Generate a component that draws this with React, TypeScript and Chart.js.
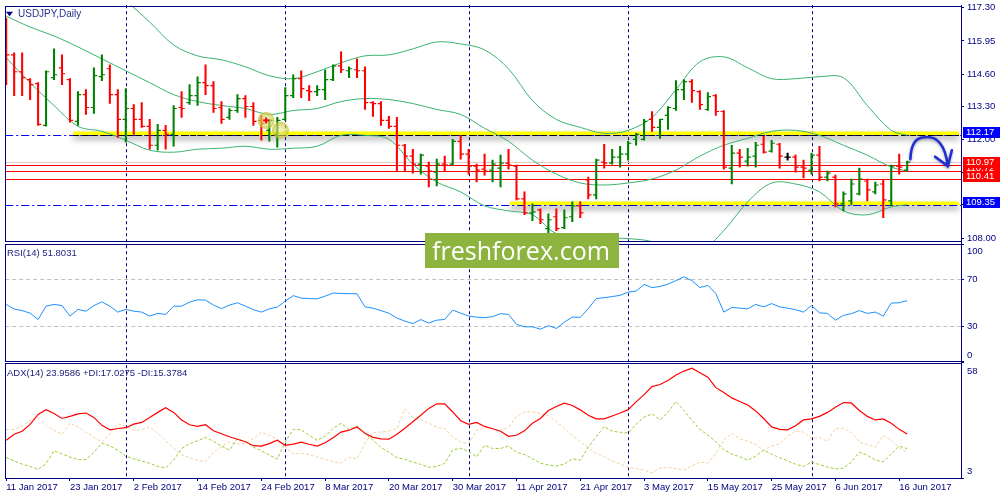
import { useEffect, useRef } from "react";
import { Chart, registerables } from "chart.js";

Chart.register(...registerables);

// ---------- data (daily USDJPY, bar index 0 = 11 Jan 2017) ----------
const dateLabels = [
  "11 Jan 2017", "23 Jan 2017", "2 Feb 2017", "14 Feb 2017", "24 Feb 2017",
  "8 Mar 2017", "20 Mar 2017", "30 Mar 2017", "11 Apr 2017", "21 Apr 2017",
  "3 May 2017", "15 May 2017", "25 May 2017", "6 Jun 2017", "16 Jun 2017",
];
const dateBars = [0, 8, 16, 24, 32, 40, 48, 56, 64, 72, 80, 88, 96, 104, 112];
const monthStartBars = [15, 35, 58, 78, 101];

const open = [
  116.27, 115.39, 114.71, 114.39, 114.23, 112.55, 114.47, 114.87, 114.39, 112.71,
  113.79, 113.27, 114.51, 114.83, 113.79, 112.79, 113.23, 112.79, 112.51, 111.75,
  112.35, 112.19, 113.27, 113.47, 113.75, 114.27, 114.15, 113.27, 112.87, 113.15,
  113.63, 113.31, 112.75, 112.35, 112.19, 112.79, 113.75, 114.43, 113.95, 113.91,
  113.99, 114.39, 114.95, 114.75, 114.79, 114.75, 113.47, 113.43, 112.75, 112.51,
  111.75, 111.31, 110.99, 110.91, 110.67, 110.99, 110.99, 111.91, 111.39, 110.91,
  110.79, 110.75, 110.83, 111.03, 110.91, 109.59, 109.03, 109.15, 108.39, 108.87,
  108.43, 108.87, 109.31, 110.35, 109.75, 111.07, 111.03, 111.27, 111.39, 111.99,
  111.99, 112.79, 112.47, 112.95, 113.23, 113.99, 114.31, 113.91, 113.19, 113.75,
  113.11, 110.83, 111.43, 111.11, 111.31, 111.79, 111.51, 111.79, 111.27, 111.27,
  110.87, 110.75, 111.35, 110.47, 110.47, 109.39, 109.51, 109.79, 110.31, 109.87,
  110.19, 109.51, 110.91, 110.75,
];
const high = [
  116.87, 115.47, 115.47, 114.43, 114.27, 114.75, 115.63, 115.39, 114.43, 113.91,
  113.99, 114.87, 115.39, 114.99, 113.99, 114.03, 113.39, 113.47, 112.79, 112.59,
  112.55, 113.35, 113.91, 114.19, 114.51, 114.99, 114.31, 113.51, 113.23, 113.79,
  113.75, 113.47, 112.95, 112.79, 112.87, 114.07, 114.59, 114.75, 114.15, 114.15,
  114.79, 114.99, 115.51, 114.91, 115.23, 114.91, 113.51, 113.51, 112.91, 112.87,
  111.79, 111.59, 111.39, 111.07, 111.19, 111.31, 111.99, 112.15, 111.59, 110.99,
  111.39, 111.15, 111.35, 111.59, 110.95, 109.87, 109.39, 109.19, 108.99, 109.19,
  109.15, 109.47, 109.47, 110.47, 111.19, 111.79, 111.59, 111.71, 111.91, 112.23,
  112.79, 113.11, 112.79, 113.31, 114.35, 114.39, 114.39, 113.95, 113.87, 113.79,
  113.15, 111.75, 111.59, 111.63, 111.87, 112.11, 111.95, 111.83, 111.43, 111.35,
  111.15, 111.43, 111.71, 110.71, 110.55, 109.87, 110.39, 110.83, 110.39, 110.27,
  110.35, 110.95, 111.39, 111.11,
];
const low = [
  114.19, 113.75, 113.75, 113.59, 112.55, 112.52, 114.39, 114.19, 112.68, 112.55,
  112.99, 113.03, 114.35, 113.43, 112.07, 111.87, 112.19, 112.47, 111.59, 111.55,
  111.59, 111.71, 112.87, 113.39, 113.35, 113.79, 113.07, 112.63, 112.79, 113.07,
  112.87, 112.55, 111.95, 111.91, 111.67, 112.75, 113.67, 113.67, 113.55, 113.75,
  113.59, 114.35, 114.67, 114.47, 114.47, 113.19, 112.91, 112.55, 112.43, 110.71,
  110.71, 110.63, 110.59, 110.07, 110.11, 110.71, 110.95, 111.19, 110.59, 110.27,
  110.55, 110.27, 110.07, 110.79, 109.55, 108.95, 108.71, 108.59, 107.99, 108.31,
  108.39, 108.67, 108.83, 109.59, 109.59, 110.83, 110.99, 110.87, 111.15, 111.75,
  111.95, 112.31, 112.03, 112.39, 113.15, 113.59, 113.47, 113.19, 113.15, 112.95,
  110.79, 110.19, 110.87, 110.91, 110.87, 111.43, 111.47, 110.83, 111.15, 110.67,
  110.43, 110.59, 110.31, 110.31, 109.27, 109.11, 109.35, 109.75, 109.51, 109.79,
  108.83, 109.31, 110.59, 110.71,
];
const close = [
  115.39, 114.71, 114.47, 114.19, 112.59, 114.71, 114.59, 114.63, 112.75, 113.79,
  113.27, 114.55, 114.59, 113.79, 112.79, 113.23, 112.79, 112.51, 111.75, 112.35,
  112.19, 113.23, 113.23, 113.75, 114.27, 114.15, 113.23, 112.79, 113.15, 113.63,
  113.31, 112.71, 112.63, 112.75, 112.75, 113.75, 114.43, 114.03, 113.91, 113.99,
  114.39, 114.95, 114.79, 114.83, 114.75, 113.47, 113.43, 112.75, 112.51, 111.75,
  111.31, 110.99, 111.35, 110.71, 110.99, 110.95, 111.91, 111.39, 110.91, 110.75,
  110.71, 110.99, 111.03, 110.95, 109.59, 109.03, 109.07, 108.75, 108.75, 108.39,
  108.83, 109.31, 109.03, 109.75, 111.15, 111.03, 111.27, 111.39, 111.83, 112.19,
  112.71, 112.47, 112.79, 113.27, 113.99, 114.31, 113.95, 113.39, 113.71, 113.11,
  110.87, 111.43, 111.27, 111.27, 111.75, 111.47, 111.83, 111.31, 111.27, 110.87,
  110.83, 111.35, 110.47, 110.63, 109.39, 109.79, 110.19, 110.39, 109.95, 110.15,
  109.55, 110.91, 110.87, 111.07,
];

// Bollinger bands (20), read every third bar
const bbBars = [
  0, 3, 6, 9, 12, 15, 18, 21, 24, 27, 30, 33, 36, 39, 42, 45, 48, 51, 54, 57,
  60, 63, 66, 69, 72, 75, 78, 81, 84, 87, 90, 93, 96, 99, 102, 105, 108, 111, 113,
];
const bbUpper = [
  118.63, 118.75, 118.95, 118.91, 118.15, 117.55, 116.71, 115.79, 115.35, 115.19,
  114.91, 114.55, 114.43, 114.71, 115.07, 115.35, 115.39, 115.63, 115.91, 115.83,
  115.59, 114.83, 113.55, 112.79, 112.47, 112.23, 112.35, 112.87, 113.99, 115.11,
  115.31, 114.87, 114.43, 114.43, 114.51, 114.47, 113.35, 112.35, 112.15,
];
const bbMiddle = [
  116.95, 116.51, 116.15, 115.71, 115.23, 114.75, 114.27, 113.79, 113.51, 113.35,
  113.23, 112.99, 113.15, 113.23, 113.51, 113.63, 113.59, 113.43, 113.19, 112.99,
  112.43, 111.91, 111.15, 110.59, 110.23, 110.15, 110.23, 110.39, 110.75, 111.31,
  111.75, 112.03, 112.31, 112.35, 112.15, 111.75, 111.35, 110.87, 110.71,
];
const bbLower = [
  115.27, 114.27, 113.35, 112.51, 112.31, 111.95, 111.55, 111.47, 111.59, 111.63,
  111.71, 111.59, 111.63, 111.71, 112.15, 112.15, 111.99, 110.99, 110.27, 109.87,
  109.31, 109.11, 108.95, 108.19, 108.11, 108.03, 107.99, 107.87, 107.47, 107.47,
  108.31, 109.47, 110.23, 110.19, 109.87, 109.11, 108.95, 109.27, 109.35,
];

const rsi = [
  48.6, 44.6, 43.3, 41.1, 35.6, 47.1, 48.6, 47.6, 38.6, 44.3,
  42.8, 47.6, 50.8, 47.1, 42.0, 44.3, 42.8, 42.0, 38.6, 40.9,
  40.0, 47.1, 47.1, 50.6, 52.5, 52.3, 48.0, 45.0, 48.0, 50.0,
  47.1, 44.1, 42.0, 44.8, 46.3, 51.4, 56.1, 54.0, 53.6, 53.4,
  55.7, 58.3, 58.0, 57.8, 57.7, 46.5, 45.4, 43.3, 41.1, 36.9,
  34.3, 32.1, 35.6, 32.6, 35.1, 35.7, 43.7, 41.1, 38.6, 37.7,
  37.3, 38.1, 40.7, 40.0, 31.5, 29.4, 29.4, 27.4, 30.4, 28.0,
  33.4, 37.7, 37.5, 45.0, 53.6, 54.4, 55.3, 56.4, 59.1, 60.0,
  65.7, 63.0, 64.0, 66.0, 69.0, 72.2, 69.0, 63.0, 64.9, 58.0,
  42.0, 46.0, 45.4, 44.8, 48.6, 46.5, 49.3, 46.5, 45.4, 44.1,
  42.0, 47.6, 41.4, 40.9, 35.1, 39.2, 40.7, 43.3, 40.9, 42.0,
  38.6, 49.7, 50.0, 51.8,
];
const adx = [
  21.0, 23.9, 25.3, 28.6, 33.3, 35.6, 33.8, 31.4, 32.4, 33.6,
  34.0, 31.9, 28.1, 26.0, 26.6, 27.0, 28.7, 29.5, 31.9, 34.3,
  36.5, 34.3, 30.7, 28.4, 27.6, 28.4, 25.5, 24.1, 22.7, 21.5,
  20.3, 18.4, 18.2, 19.4, 21.0, 18.6, 19.2, 20.1, 19.1, 18.2,
  19.8, 22.2, 24.9, 25.8, 27.3, 24.3, 22.4, 21.7, 21.5, 23.9,
  26.7, 29.8, 32.9, 36.2, 38.4, 38.4, 34.5, 30.3, 28.6, 29.5,
  27.6, 26.5, 25.3, 22.9, 23.4, 25.5, 29.1, 31.4, 35.2, 37.1,
  38.7, 37.6, 35.5, 32.9, 31.2, 31.2, 32.6, 34.0, 35.6, 39.3,
  42.8, 46.6, 47.6, 49.5, 52.1, 54.0, 55.4, 53.2, 51.1, 46.1,
  43.8, 41.2, 39.5, 37.8, 35.0, 31.4, 27.4, 26.2, 26.0, 27.9,
  30.7, 31.2, 32.4, 34.3, 36.7, 39.0, 38.8, 35.2, 32.4, 30.7,
  31.2, 29.1, 26.2, 24.0,
];
const plusDi = [
  12.8, 11.1, 9.6, 8.5, 7.1, 9.9, 16.0, 14.5, 13.0, 11.8,
  11.8, 15.3, 19.6, 18.4, 16.3, 13.4, 12.1, 11.1, 10.0, 8.5,
  7.8, 11.5, 17.0, 19.4, 20.8, 22.4, 20.5, 18.2, 16.3, 21.7,
  20.3, 17.7, 16.0, 13.9, 12.0, 20.2, 26.2, 26.0, 23.4, 21.0,
  22.9, 26.7, 29.1, 26.2, 27.8, 24.3, 21.0, 17.6, 15.3, 12.7,
  11.9, 10.6, 9.5, 8.1, 8.5, 10.0, 16.4, 17.2, 15.7, 13.1,
  18.6, 17.1, 17.1, 18.2, 15.3, 14.2, 12.2, 10.1, 9.2, 8.7,
  9.6, 12.2, 11.5, 17.7, 22.7, 27.6, 25.3, 24.8, 24.5, 28.6,
  32.1, 33.5, 30.7, 34.3, 39.6, 35.2, 30.5, 26.2, 23.5, 20.3,
  16.6, 14.4, 13.1, 11.5, 13.4, 16.3, 14.4, 12.7, 11.2, 9.6,
  8.5, 10.6, 9.4, 8.2, 7.3, 7.7, 10.6, 15.3, 13.9, 11.5,
  10.7, 14.4, 18.2, 17.0,
];
const minusDi = [
  26.1, 26.1, 27.6, 30.5, 31.9, 28.1, 25.8, 23.9, 29.1, 27.4,
  24.8, 22.4, 20.1, 24.3, 28.9, 27.6, 25.8, 26.0, 27.4, 24.3,
  20.8, 17.2, 14.1, 12.7, 11.4, 10.7, 15.3, 17.9, 20.2, 19.1,
  19.6, 21.7, 24.8, 23.4, 21.5, 17.6, 14.6, 14.8, 14.1, 13.0,
  11.8, 10.8, 10.1, 12.8, 12.1, 19.6, 24.6, 25.0, 25.5, 26.5,
  36.0, 31.9, 30.7, 29.3, 27.2, 26.6, 22.4, 20.1, 19.4, 25.8,
  27.3, 26.6, 25.8, 27.2, 32.4, 34.5, 34.5, 33.8, 32.9, 29.8,
  26.7, 23.4, 20.3, 17.4, 14.8, 13.1, 11.1, 9.6, 8.1, 7.5,
  6.8, 5.4, 7.7, 8.1, 7.5, 6.8, 8.8, 10.6, 10.1, 14.6,
  21.0, 24.3, 21.7, 20.5, 18.9, 16.3, 18.2, 19.4, 22.9, 25.5,
  24.9, 21.8, 22.3, 20.5, 26.7, 26.7, 24.8, 20.1, 18.9, 17.7,
  23.4, 21.0, 17.5, 15.4,
];

const priceTicks = [108.0, 109.35, 110.65, 112.0, 113.3, 114.6, 115.95, 117.3];
const rsiTicks = [0, 30, 70, 100];
const rsiLevels = [30, 70];
const adxTicks = [3, 58];

// drawn objects
const keyLevels = [112.17, 109.35];
const keyLevelFromBar = [8.4, 63.2];
const redLevels = [110.97, 110.72, 110.41];
const markerPoints = [[32.6, 112.75], [34.4, 112.35]];
// curved arrow: start, ctrl, peak, ctrl, tip, wing, wing  (bar, price)
const arrowPoints = [
  [113.4, 111.19], [113.5, 112.05], [115.1, 112.07], [117.6, 112.19],
  [118.1, 110.91], [116.5, 111.29], [118.6, 111.55],
];

const titleMain = "USDJPY,Daily";
const titleRsi = "RSI(14) 51.8031";
const titleAdx = "ADX(14) 23.9586 +DI:17.0275 -DI:15.3784";
const watermark = "freshforex.com";

// ---------- styles ----------
const NAVY = "#000080";
const BULL = "#008000";
const BEAR = "#ff0000";
const DOJI = "#000000";
const BAND = "#3cb371";
const FONT = '"Liberation Sans", Arial, sans-serif';

const strokeLine = (ctx: CanvasRenderingContext2D, x1: number, y1: number, x2: number, y2: number) => {
  ctx.beginPath();
  ctx.moveTo(x1, y1);
  ctx.lineTo(x2, y2);
  ctx.stroke();
};
const crisp = (v: number) => Math.round(v) + 0.5;

const panelClip = {
  id: "panelClip",
  beforeDatasetDraw(chart: any, args: any) {
    const { ctx, chartArea } = chart;
    const ys = args.meta.yScale;
    ctx.save();
    ctx.beginPath();
    ctx.rect(chartArea.left, ys.top, chartArea.right - chartArea.left, ys.bottom - ys.top);
    ctx.clip();
  },
  afterDatasetDraw(chart: any) {
    chart.ctx.restore();
  },
};

const levelsPlugin = {
  id: "levels",
  beforeDatasetsDraw(chart: any) {
    const { ctx, chartArea: a, scales } = chart;
    const { x, y, yRsi } = scales;
    ctx.save();
    ctx.lineWidth = 1;

    // month separators
    ctx.strokeStyle = NAVY;
    ctx.setLineDash([3, 3]);
    monthStartBars.forEach((b) => {
      const px = crisp(x.getPixelForValue(b));
      strokeLine(ctx, px, a.top, px, a.bottom);
    });

    // RSI levels
    ctx.strokeStyle = "#c0c0c0";
    ctx.setLineDash([4, 3]);
    rsiLevels.forEach((v) => {
      const py = crisp(yRsi.getPixelForValue(v));
      strokeLine(ctx, a.left, py, a.right, py);
    });

    // bid line
    ctx.setLineDash([]);
    ctx.strokeStyle = "#dcc8c8";
    const bid = crisp(y.getPixelForValue(close[close.length - 1]));
    strokeLine(ctx, a.left, bid, a.right, bid);

    // red levels
    ctx.strokeStyle = "#ff0000";
    redLevels.forEach((v) => {
      const py = crisp(y.getPixelForValue(v));
      strokeLine(ctx, a.left, py, a.right, py);
    });

    // blue dash-dot levels
    ctx.strokeStyle = "#0000ff";
    ctx.setLineDash([8, 3, 2, 3]);
    keyLevels.forEach((v) => {
      const py = crisp(y.getPixelForValue(v));
      strokeLine(ctx, a.left, py, a.right, py);
    });

    // yellow highlights with shadow
    ctx.setLineDash([]);
    ctx.save();
    ctx.shadowColor = "rgba(0,0,0,0.45)";
    ctx.shadowBlur = 6;
    ctx.shadowOffsetY = 4;
    ctx.strokeStyle = "#ffff00";
    ctx.lineWidth = 3.5;
    keyLevels.forEach((v, k) => {
      const py = y.getPixelForValue(v) - 1.5;
      strokeLine(ctx, x.getPixelForValue(keyLevelFromBar[k]), py, a.right - 2, py);
    });
    ctx.restore();

    // black dashed on the upper level
    ctx.strokeStyle = "#000000";
    ctx.lineWidth = 1;
    ctx.setLineDash([6, 3]);
    const py0 = crisp(y.getPixelForValue(keyLevels[0]));
    strokeLine(ctx, x.getPixelForValue(keyLevelFromBar[0]), py0, a.right - 2, py0);
    ctx.restore();
  },
};

const overlayPlugin = {
  id: "overlay",
  afterDraw(chart: any) {
    const { ctx, chartArea: a, scales } = chart;
    const { x, y, yRsi, yAdx } = scales;
    ctx.save();

    // panel frames
    ctx.strokeStyle = NAVY;
    ctx.lineWidth = 1;
    const frames = [
      [y.top + 0.5, y.bottom - 1],
      [yRsi.top + 2, yRsi.bottom - 1],
      [yAdx.top + 1, yAdx.bottom],
    ];
    frames.forEach(([t, b]) => {
      ctx.strokeRect(crisp(a.left), crisp(t), Math.round(a.right - a.left), Math.round(b - t));
    });

    // RSI / ADX axis labels, clamped inside their panel
    ctx.font = `9.5px ${FONT}`;
    ctx.fillStyle = NAVY;
    ctx.textBaseline = "middle";
    ctx.textAlign = "left";
    const sub: [any, number[]][] = [[yRsi, rsiTicks], [yAdx, adxTicks]];
    sub.forEach(([sc, ticks]) => {
      ticks.forEach((v) => {
        const py = Math.min(Math.max(sc.getPixelForValue(v), sc.top + 9), sc.bottom - 7);
        ctx.fillText(String(v), a.right + 6, py);
      });
    });

    // price tags on the right axis
    const tag = (v: number, bg: string) => {
      const py = y.getPixelForValue(v) - 2;
      ctx.fillStyle = bg;
      ctx.fillRect(a.right + 2, Math.round(py - 5.5), 37, 11);
      ctx.fillStyle = "#ffffff";
      ctx.fillText(v.toFixed(2), a.right + 5, py);
    };
    [1, 2, 0].forEach((k) => tag(redLevels[k], "#ff0000"));
    keyLevels.forEach((v) => tag(v, "#0000ff"));

    // panel titles
    ctx.font = `10px ${FONT}`;
    ctx.fillStyle = "#23308c";
    ctx.fillText(titleMain, 18, y.top + 9.5);
    ctx.font = `9.5px ${FONT}`;
    ctx.fillStyle = "#1b1b7a";
    ctx.fillText(titleRsi, 7, yRsi.top + 11);
    ctx.fillText(titleAdx, 7, yAdx.top + 11);
    ctx.fillStyle = NAVY;
    ctx.beginPath();
    ctx.moveTo(6, y.top + 6.5);
    ctx.lineTo(13, y.top + 6.5);
    ctx.lineTo(9.5, y.top + 11);
    ctx.closePath();
    ctx.fill();

    // highlighted marker
    markerPoints.forEach(([b, p]) => {
      const cx = x.getPixelForValue(b);
      const cy = y.getPixelForValue(p);
      const g = ctx.createRadialGradient(cx, cy, 1, cx, cy, 9);
      g.addColorStop(0, "rgba(235,235,150,0.55)");
      g.addColorStop(1, "rgba(190,190,40,0.75)");
      ctx.fillStyle = g;
      ctx.beginPath();
      ctx.arc(cx, cy, 8.5, 0, Math.PI * 2);
      ctx.fill();
    });
    {
      const cx = x.getPixelForValue(markerPoints[0][0]);
      const cy = y.getPixelForValue(markerPoints[0][1]);
      ctx.strokeStyle = "#ff0000";
      ctx.lineWidth = 2;
      strokeLine(ctx, cx - 3, cy, cx + 3, cy);
      strokeLine(ctx, cx, cy - 3, cx, cy + 3);
    }

    // curved forecast arrow
    const P = arrowPoints.map(([b, p]) => [x.getPixelForValue(b), y.getPixelForValue(p)]);
    ctx.save();
    ctx.shadowColor = "rgba(0,0,60,0.35)";
    ctx.shadowBlur = 3;
    ctx.shadowOffsetY = 1;
    ctx.strokeStyle = "#1f2fd0";
    ctx.lineWidth = 2.6;
    ctx.lineCap = "round";
    ctx.lineJoin = "round";
    ctx.beginPath();
    ctx.moveTo(P[0][0], P[0][1]);
    ctx.quadraticCurveTo(P[1][0], P[1][1], P[2][0], P[2][1]);
    ctx.quadraticCurveTo(P[3][0], P[3][1], P[4][0], P[4][1]);
    ctx.stroke();
    ctx.beginPath();
    ctx.moveTo(P[5][0], P[5][1]);
    ctx.lineTo(P[4][0], P[4][1]);
    ctx.lineTo(P[6][0], P[6][1]);
    ctx.stroke();
    ctx.restore();

    // watermark
    ctx.fillStyle = "#8db43e";
    ctx.fillRect(425, 233, 194, 35);
    ctx.fillStyle = "#ffffff";
    ctx.textBaseline = "alphabetic";
    ctx.font = `30px "Open Sans", ${FONT}`;
    const w = ctx.measureText(watermark).width;
    ctx.font = `${(30 * 178) / w}px "Open Sans", ${FONT}`;
    ctx.fillText(watermark, 432, 260);

    ctx.restore();
  },
};

export default function App() {
  const canvasRef = useRef<HTMLCanvasElement>(null);

  useEffect(() => {
    document.body.style.margin = "0";
    const canvas = canvasRef.current;
    if (!canvas) return;

    const idx = close.map((_, i) => i);
    const colors = idx.map((i) => (close[i] > open[i] ? BULL : close[i] < open[i] ? BEAR : DOJI));
    const band = (vals: number[]) => bbBars.map((b, k) => ({ x: b, y: vals[k] }));
    const series = (vals: number[]) => vals.map((v, i) => ({ x: i, y: v }));
    const tick = {
      type: "line" as const,
      showLine: false,
      pointStyle: "line" as const,
      pointRadius: 1.6,
      pointBorderWidth: 1.2,
      pointBorderColor: colors,
      pointBackgroundColor: colors,
      xAxisID: "x",
      yAxisID: "y",
    };
    const yAxis = (stackWeight: number, min: number, max: number, ticks: number[], showLabels: boolean) => ({
      type: "linear" as const,
      position: "right" as const,
      stack: "panes",
      stackWeight,
      min,
      max,
      beginAtZero: false,
      afterBuildTicks: (scale: any) => {
        scale.ticks = ticks.map((v) => ({ value: v }));
      },
      afterFit: (scale: any) => {
        scale.width = 39;
        scale.paddingTop = 0;
        scale.paddingBottom = 0;
      },
      grid: { drawOnChartArea: false, drawTicks: true, tickLength: 3, color: NAVY },
      border: { display: true, color: NAVY },
      ticks: {
        display: showLabels,
        padding: 3,
        color: NAVY,
        font: { family: FONT, size: 9.5 },
        callback: (v: any) => Number(v).toFixed(2),
      },
    });

    const chart = new Chart(canvas, {
      type: "line",
      data: {
        datasets: [
          {
            type: "bar",
            data: idx.map((i) => ({ x: i, y: [low[i], high[i]] })) as any,
            backgroundColor: colors,
            borderWidth: 0,
            barThickness: 1.4,
            grouped: false,
            xAxisID: "x",
            yAxisID: "y",
          },
          { ...tick, data: idx.map((i) => ({ x: i - 0.2, y: open[i] })) },
          { ...tick, data: idx.map((i) => ({ x: i + 0.2, y: close[i] })) },
          ...[bbUpper, bbMiddle, bbLower].map((vals) => ({
            type: "line" as const,
            data: band(vals),
            borderColor: BAND,
            borderWidth: 1,
            pointRadius: 0,
            tension: 0.35,
            xAxisID: "x",
            yAxisID: "y",
          })),
          {
            type: "line",
            data: series(rsi),
            borderColor: "#1e90ff",
            borderWidth: 1,
            pointRadius: 0,
            xAxisID: "x",
            yAxisID: "yRsi",
          },
          {
            type: "line",
            data: series(adx),
            borderColor: "#ff0000",
            borderWidth: 1.2,
            pointRadius: 0,
            xAxisID: "x",
            yAxisID: "yAdx",
          },
          {
            type: "line",
            data: series(plusDi),
            borderColor: "#9acd32",
            borderWidth: 1,
            borderDash: [3, 2],
            pointRadius: 0,
            xAxisID: "x",
            yAxisID: "yAdx",
          },
          {
            type: "line",
            data: series(minusDi),
            borderColor: "#f5d0a0",
            borderWidth: 1,
            borderDash: [3, 2],
            pointRadius: 0,
            xAxisID: "x",
            yAxisID: "yAdx",
          },
        ],
      },
      options: {
        responsive: false,
        animation: false,
        events: [],
        layout: { padding: { left: 2, top: 2, right: 0, bottom: 0 } },
        plugins: { legend: { display: false }, tooltip: { enabled: false } },
        scales: {
          x: {
            type: "linear",
            position: "bottom",
            min: -0.125,
            max: 119.75,
            offset: false,
            afterBuildTicks: (scale: any) => {
              scale.ticks = dateBars.map((v) => ({ value: v }));
            },
            afterFit: (scale: any) => {
              scale.height = 22;
              scale.paddingLeft = 0;
              scale.paddingRight = 0;
            },
            grid: { drawOnChartArea: false, drawTicks: true, tickLength: 3, color: NAVY, offset: false },
            border: { display: true, color: NAVY },
            ticks: {
              autoSkip: false,
              maxRotation: 0,
              minRotation: 0,
              align: "start",
              padding: 1,
              color: NAVY,
              font: { family: FONT, size: 9.5 },
              callback: (_v: any, i: number) => dateLabels[i],
            },
          },
          y: yAxis(238.5, 107.85, 117.39, priceTicks, true),
          yRsi: yAxis(121, -1, 102, rsiTicks, false),
          yAdx: yAxis(116.5, 3, 58.2, adxTicks, false),
        } as any,
      },
      plugins: [panelClip, levelsPlugin, overlayPlugin],
    } as any);

    return () => chart.destroy();
  }, []);

  return (
    <div style={{ width: 1000, height: 500, background: "#ffffff" }}>
      <canvas ref={canvasRef} width={1000} height={500} style={{ display: "block" }} />
    </div>
  );
}
